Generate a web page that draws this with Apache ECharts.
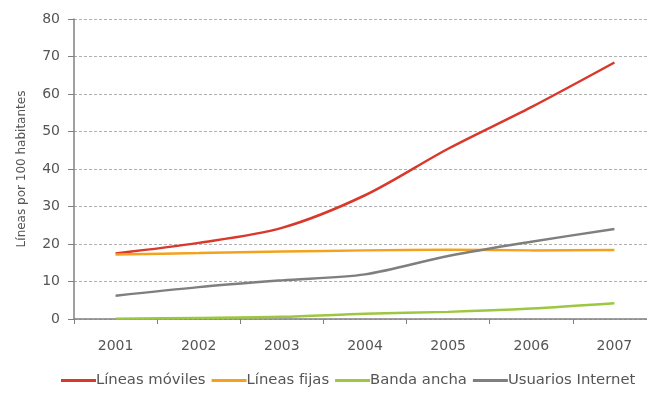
<!DOCTYPE html>
<html lang="es">
  <head>
    <meta charset="UTF-8" />
    <title>Líneas por 100 habitantes</title>
    <style>
      body {
        margin: 0;
        overflow: hidden;
        background: #fff;
      }
    </style>
    <script src="https://cdn.jsdelivr.net/npm/echarts@6/dist/echarts.min.js"></script>
  </head>

  <body>
    <div id="chart" style="width: 647px; height: 397px"></div>
    <script>
      // datos
      var years = ["2001", "2002", "2003", "2004", "2005", "2006", "2007"];
      var moviles = [17.5, 20.3, 24.3, 33, 45.4, 56.5, 68.4];
      var fijas = [17.2, 17.6, 18.0, 18.3, 18.5, 18.3, 18.4];
      var banda = [0.1, 0.3, 0.6, 1.4, 1.9, 2.8, 4.2];
      var internet = [6.2, 8.5, 10.3, 11.9, 16.8, 20.6, 24];

      function serie(name, data, color) {
        return {
          name: name,
          type: "line",
          data: data,
          smooth: 0.3,
          showSymbol: false,
          lineStyle: { color: color, width: 2.5 },
          itemStyle: { color: color },
        };
      }

      var option = {
        animation: false,
        textStyle: { fontFamily: "DejaVu Sans, Verdana, sans-serif" },
        grid: { left: 74, top: 19, width: 582, height: 300, outerBoundsMode: "none" },
        legend: {
          top: 373,
          left: 61,
          width: 586,
          padding: 0,
          itemWidth: 35,
          itemHeight: 3,
          itemGap: 6,
          icon: "rect",
          textStyle: { fontSize: 14.8, color: "#555", padding: [0, 0, 0, -5] },
          data: ["Líneas móviles", "Líneas fijas", "Banda ancha", "Usuarios Internet"],
        },
        xAxis: {
          type: "category",
          data: years,
          boundaryGap: true,
          axisLine: { lineStyle: { color: "#808080", width: 1.5 } },
          axisTick: { show: true, length: 5, lineStyle: { color: "#808080" } },
          axisLabel: { fontSize: 14, color: "#555", margin: 20 },
        },
        yAxis: {
          type: "value",
          min: 0,
          max: 80,
          interval: 10,
          name: "Líneas por 100 habitantes",
          nameLocation: "middle",
          nameGap: 46,
          nameTextStyle: { fontSize: 12, color: "#555" },
          axisLine: { show: true, lineStyle: { color: "#808080", width: 1.5 } },
          axisTick: { show: true, length: 6, lineStyle: { color: "#808080" } },
          axisLabel: { fontSize: 14, color: "#555", margin: 14 },
          splitLine: { lineStyle: { color: "#b0b0b0", type: [3, 2] } },
        },
        series: [
          serie("Líneas móviles", moviles, "#d8392b"),
          serie("Líneas fijas", fijas, "#f3a21e"),
          serie("Banda ancha", banda, "#9cc740"),
          serie("Usuarios Internet", internet, "#7f7f7f"),
        ],
      };

      var myChart = echarts.init(document.getElementById("chart"));
      myChart.setOption(option);
    </script>
  </body>
</html>
